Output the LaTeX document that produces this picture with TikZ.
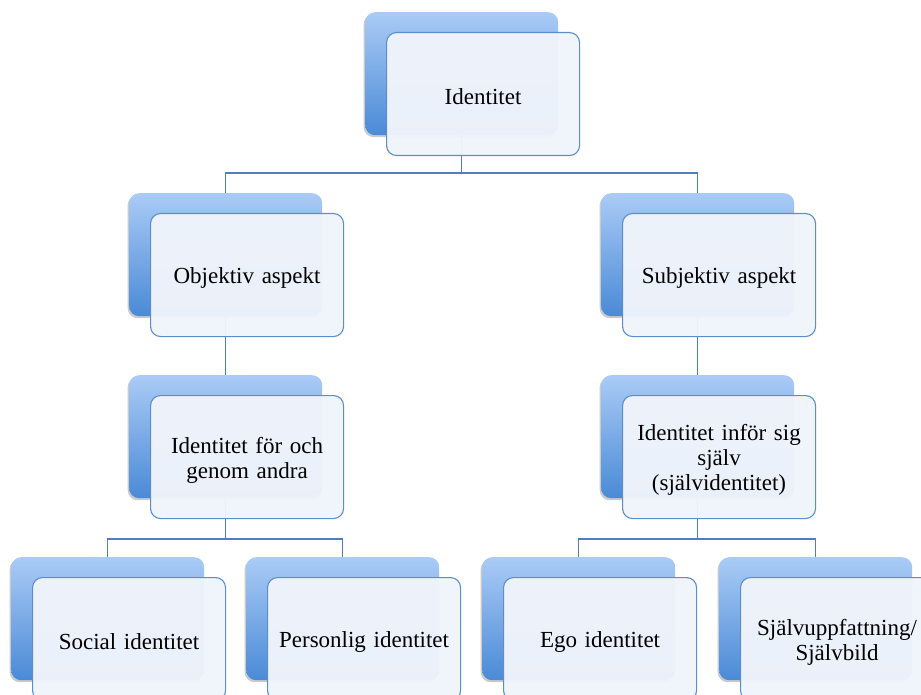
\documentclass[tikz,border=0pt]{standalone}
\usepackage{fontspec}
\setmainfont{Liberation Serif}
\usetikzlibrary{shadows,calc}
\definecolor{topblue}{HTML}{AACBF6}
\definecolor{botblue}{HTML}{4A8AD6}
\definecolor{frontfill}{HTML}{F0F4FB}
\definecolor{frontline}{HTML}{5B8ECF}
\definecolor{connline}{HTML}{4F7FBF}
\tikzset{
  backbox/.style={rectangle, rounded corners=10pt, minimum width=193pt, minimum height=123pt,
    inner sep=0pt, top color=topblue, bottom color=botblue, draw=none,
    drop shadow={shadow xshift=-1.5pt, shadow yshift=-2pt, opacity=0.35, fill=black!60}},
  frontbox/.style={rectangle, rounded corners=10pt, minimum width=193pt, minimum height=123pt,
    inner sep=0pt, fill=frontfill, fill opacity=0.97, draw=frontline, draw opacity=1, line width=1.1pt},
  frontlabel/.style={inner sep=0pt, text width=190pt, align=center, font=\fontsize{23}{25}\selectfont},
  conn/.style={draw=connline, line width=1.1pt}
}
\newcommand\sabox[4]{%
  \node[backbox, anchor=north west] (#1b) at (#2,#3) {};
  \node[frontbox, anchor=north west] (#1) at ({#2+21},{#3+20}) {};
  \node[frontlabel] (#1t) at ([yshift=-3pt]#1.center) {#4};
}
\begin{document}
\begin{tikzpicture}[x=1pt,y=-1pt]
\useasboundingbox (0,0) rectangle (921,695);
\clip (0,0) rectangle (921,695);
\coordinate (j1) at (462,173);
\coordinate (j2) at (226,539);
\coordinate (j3) at (697,539);
\path (365,12) ++(96.5,61.5) coordinate (c0)
      (129,193) ++(96.5,61.5) coordinate (c1)
      (601,193) ++(96.5,61.5) coordinate (c2)
      (129,375) ++(96.5,61.5) coordinate (c3)
      (601,375) ++(96.5,61.5) coordinate (c4)
      (11,557) ++(96.5,61.5) coordinate (c5)
      (246,557) ++(96.5,61.5) coordinate (c6)
      (482,557) ++(96.5,61.5) coordinate (c7)
      (719,557) ++(96.5,61.5) coordinate (c8);
\draw[conn] (c0) -- (c0 |- j1) -| (c1);
\draw[conn] (c0 |- j1) -| (c2);
\draw[conn] (c1) -- (c3);
\draw[conn] (c2) -- (c4);
\draw[conn] (c3) -- (c3 |- j2) -| (c5);
\draw[conn] (c3 |- j2) -| (c6);
\draw[conn] (c4) -- (c4 |- j3) -| (c7);
\draw[conn] (c4 |- j3) -| (c8);
\sabox{top}{365}{12}{Identitet}
\sabox{obj}{129}{193}{Objektiv aspekt}
\sabox{sub}{601}{193}{Subjektiv aspekt}
\sabox{gen}{129}{375}{Identitet för och\\genom andra}
\sabox{inf}{601}{375}{Identitet inför sig\\själv\\(självidentitet)}
\sabox{soc}{11}{557}{Social identitet}
\sabox{per}{246}{557}{Personlig identitet}
\sabox{ego}{482}{557}{Ego identitet}
\sabox{sjb}{719}{557}{Självuppfattning/\\Självbild}
\end{tikzpicture}
\end{document}
